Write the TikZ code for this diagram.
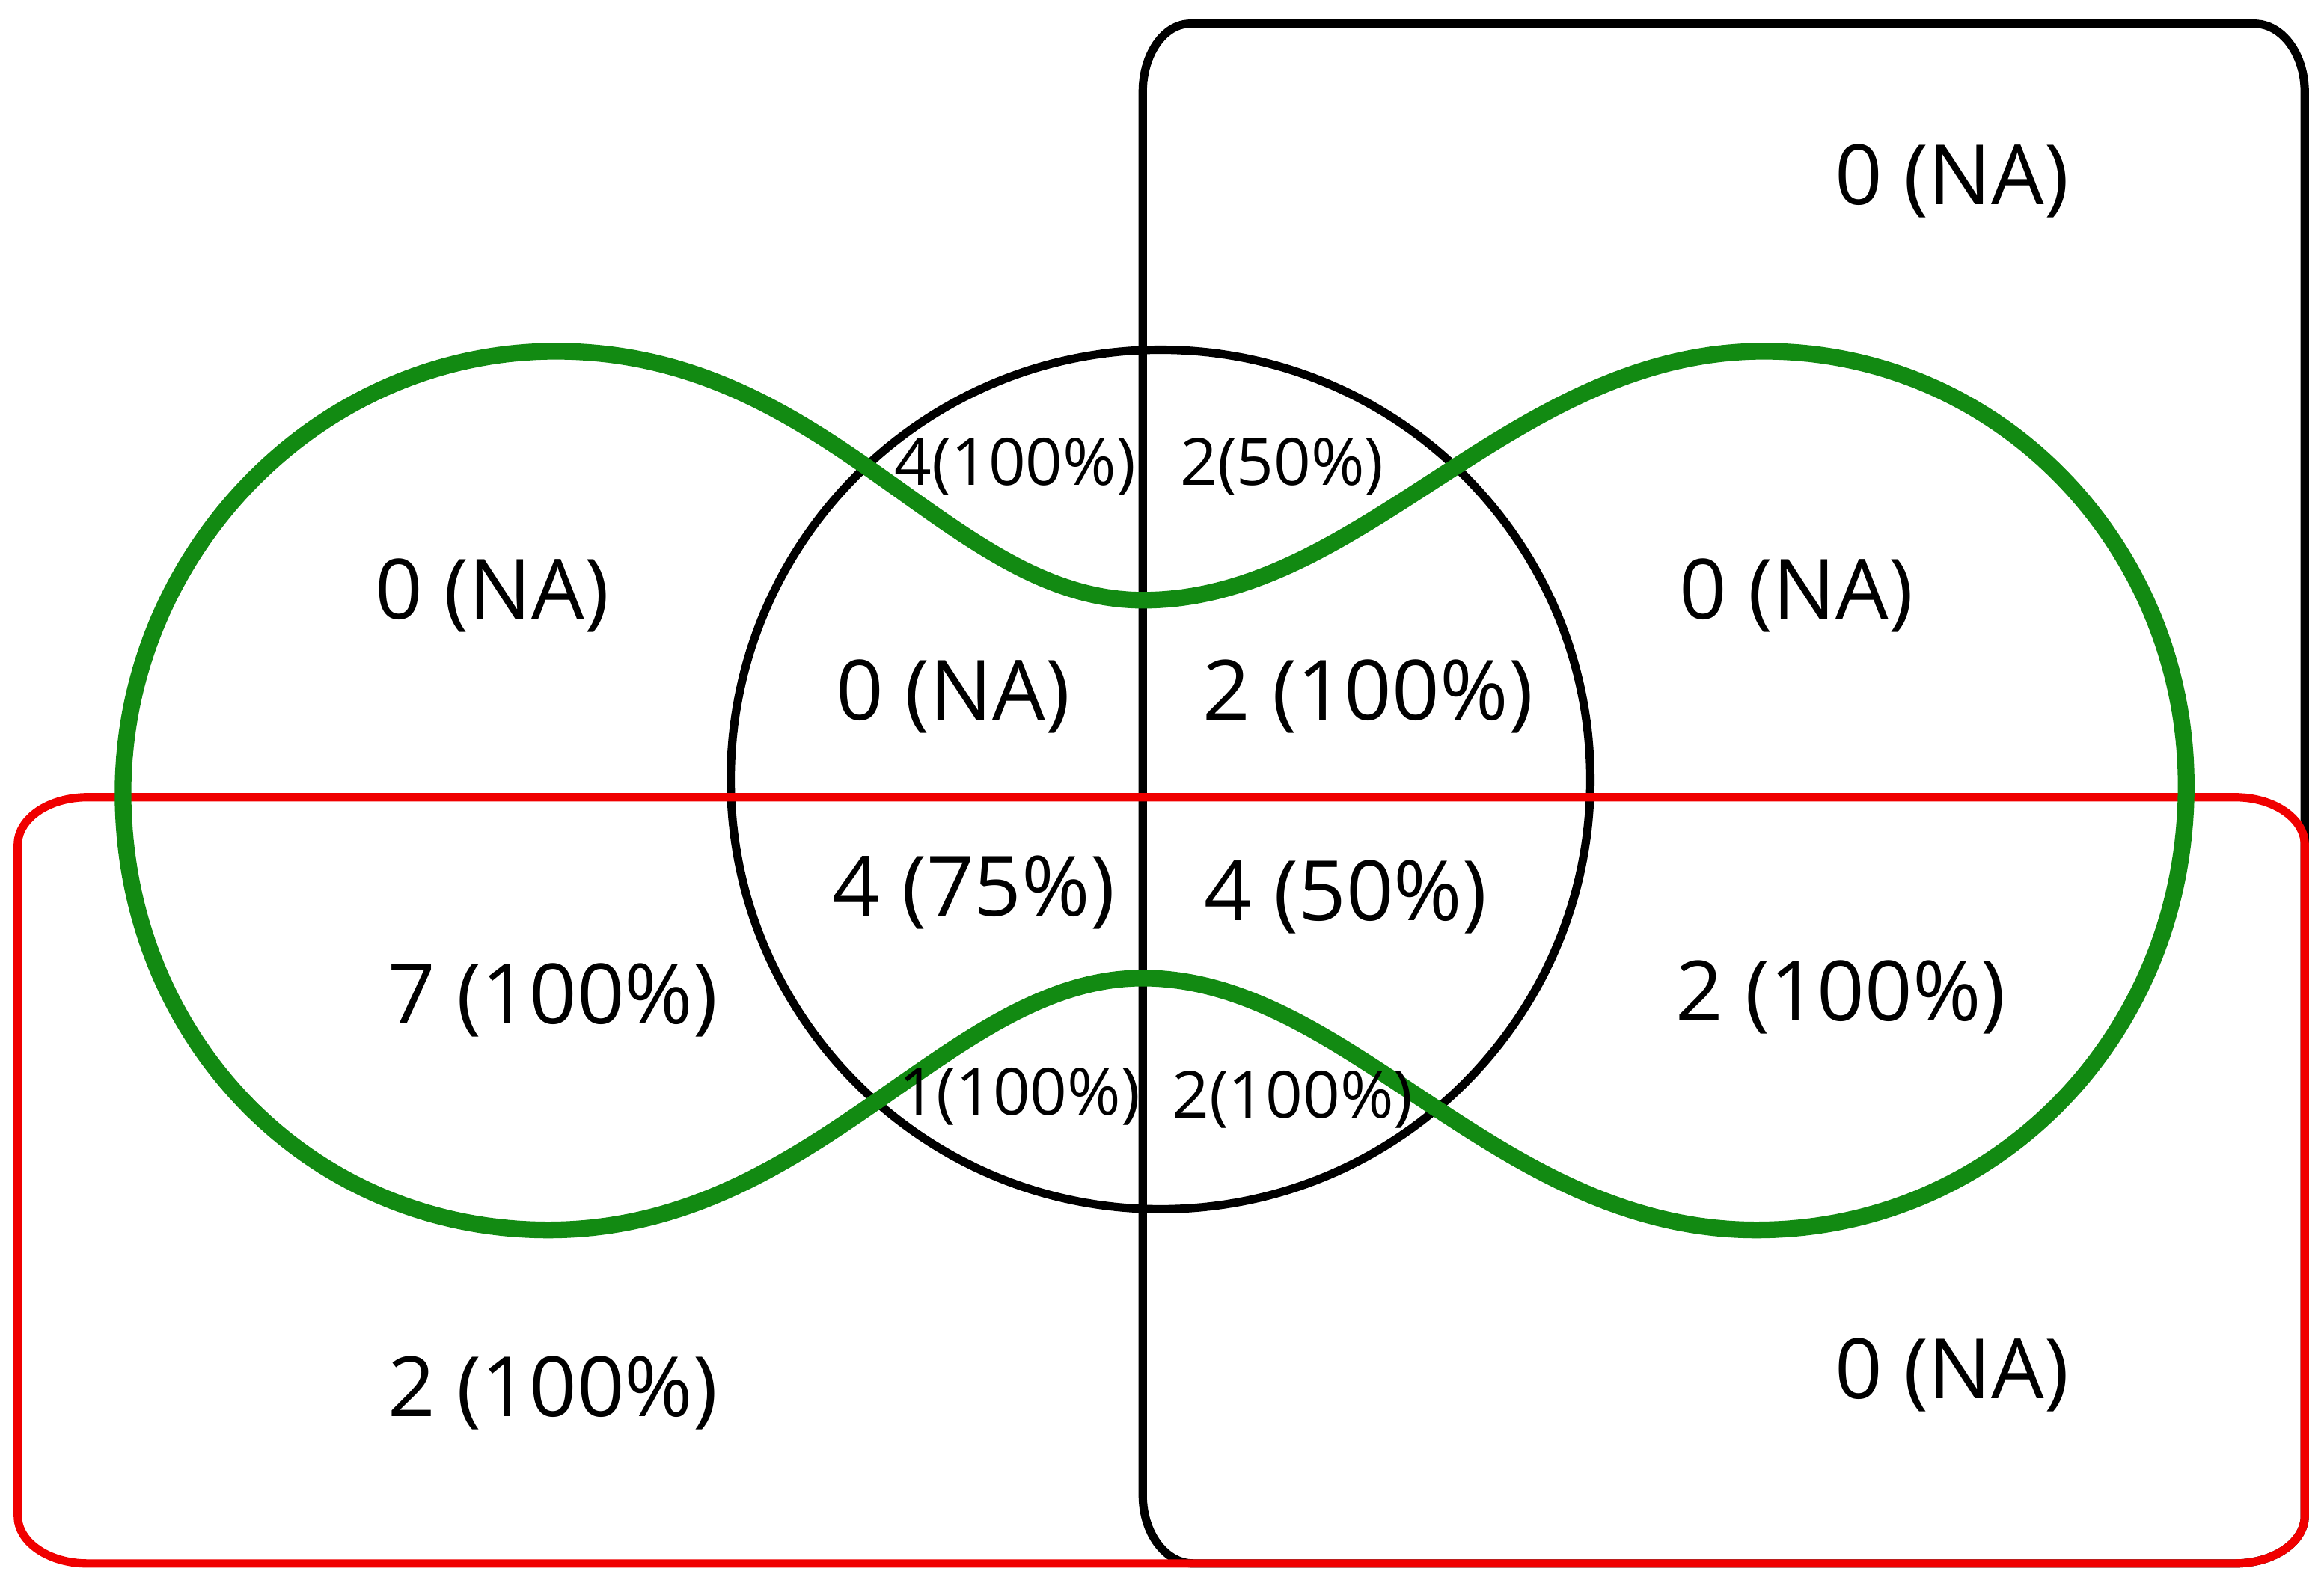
\documentclass[tikz,border=0pt]{standalone}
\usepackage{fontspec}
\setmainfont{Open Sans}
\definecolor{setgreen}{RGB}{18,138,18}
\definecolor{setred}{RGB}{240,0,0}
\tikzset{
  count/.style   = {font=\fontsize{16}{19}\selectfont, inner sep=0pt},
  subcount/.style = {font=\fontsize{12.5}{15}\selectfont, inner sep=0pt},
  blackset/.style = {draw=black, line width=1.6pt},
  redset/.style   = {draw=setred, line width=1.6pt},
  greenset/.style = {draw=setgreen, line width=3.2pt},
}
\begin{document}
\begin{tikzpicture}[x=0.1mm, y=-0.1mm]
    \useasboundingbox (0,0) rectangle (1568,1072);
    % circle in the middle
    \draw[blackset] (783,526) circle [radius=290];
    % black rounded box on the right
    \draw[blackset] (803,16) -- (1521,16)
        arc [start angle=-90, end angle=0, x radius=34, y radius=46] -- (1555,1023)
        arc [start angle=0, end angle=90, x radius=47, y radius=32] -- (805,1055)
        arc [start angle=90, end angle=180, x radius=34, y radius=46] -- (771,62)
        arc [start angle=180, end angle=270, x radius=32, y radius=46] -- cycle;
    % red rounded box at the bottom
    \draw[redset] (59,538) -- (1508,538)
        arc [start angle=-90, end angle=0, x radius=47, y radius=32] -- (1555,1023)
        arc [start angle=0, end angle=90, x radius=47, y radius=32] -- (59,1055)
        arc [start angle=90, end angle=180, x radius=47, y radius=32] -- (12,570)
        arc [start angle=180, end angle=270, x radius=47, y radius=32] -- cycle;
    % green closed curve
    \draw[greenset] (83,535) .. controls (83,374) and (214,237) .. (375,237)
        .. controls (560,237) and (640,405) .. (771,405)
        .. controls (920,405) and (1020,237) .. (1190,237)
        .. controls (1350,237) and (1475,370) .. (1475,530)
        .. controls (1475,700) and (1345,830) .. (1185,830)
        .. controls (1010,830) and (910,660) .. (771,660)
        .. controls (640,660) and (550,830) .. (370,830)
        .. controls (208,830) and (83,700) .. (83,535) -- cycle;
    % counts
    \node[count] (topright) at (1317,122) {0 (NA)};
    \node[count] (leftup) at (332,402) {0 (NA)};
    \node[count] (rightup) at (1212,402) {0 (NA)};
    \node[count] (midleftup) at (643,470) {0 (NA)};
    \node[count] (midrightup) at (923,470) {2 (100\%)};
    \node[count] (midleftlow) at (657,602) {4 (75\%)};
    \node[count] (midrightlow) at (908,605) {4 (50\%)};
    \node[count] (leftlow) at (373,675) {7 (100\%)};
    \node[count] (rightlow) at (1242,673) {2 (100\%)};
    \node[count] (bottomleft) at (373,940) {2 (100\%)};
    \node[count] (bottomright) at (1317,928) {0 (NA)};
    \node[subcount] (lenstl) at (685,315) {4(100\%)};
    \node[subcount] (lenstr) at (865,315) {2(50\%)};
    \node[subcount] (lensbl) at (688,740) {1(100\%)};
    \node[subcount] (lensbr) at (872,742) {2(100\%)};
\end{tikzpicture}
\end{document}
